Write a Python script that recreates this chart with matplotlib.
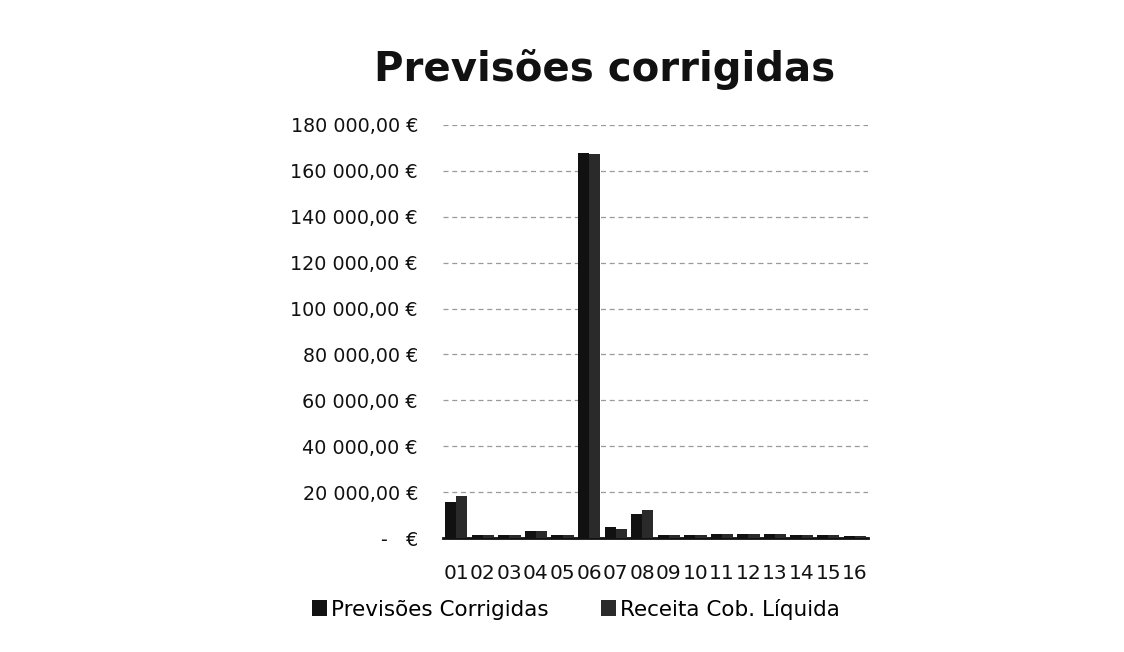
import matplotlib
matplotlib.use("Agg")
import matplotlib.pyplot as plt
import numpy as np

categories = ["01", "02", "03", "04", "05", "06", "07", "08",
              "09", "10", "11", "12", "13", "14", "15", "16"]
previsoes = [15500, 1500, 1500, 3000, 1500, 168000, 4800, 10600,
             1500, 1500, 1800, 1800, 1800, 1500, 1500, 1000]
receita = [18400, 1200, 1300, 3000, 1200, 167500, 3800, 12200,
           1300, 1400, 1600, 1600, 1700, 1400, 1400, 900]
y_ticks = [0, 20000, 40000, 60000, 80000, 100000, 120000, 140000, 160000, 180000]
title = "Previsões corrigidas"
series_names = ["Previsões Corrigidas", "Receita Cob. Líquida"]

plt.rcParams['font.family'] = ['DejaVu Sans']

fig = plt.figure(figsize=(11.24, 6.52), dpi=100)
ax = fig.add_axes([443/1124, 1-538/652, (868-443)/1124, (538-125)/652])

x = np.arange(len(categories))
w = 0.42
ax.bar(x - w/2, previsoes, width=w, color="#111111", label=series_names[0], zorder=3)
ax.bar(x + w/2, receita, width=w, color="#2a2a2a", label=series_names[1], zorder=3)

ax.set_xlim(-0.5, len(categories) - 0.5)
ax.set_ylim(0, 180000)
ax.set_yticks(y_ticks)

def fmt(v):
    if v == 0:
        return "-   €"
    return f"{int(v):,}".replace(",", " ") + ",00 €"

ax.set_yticklabels([fmt(v) for v in y_ticks], fontsize=13.8, color="#111111")
ax.set_xticks(x)
ax.set_xticklabels(categories, fontsize=14.5, color="#111111")
ax.tick_params(axis='x', length=0, pad=19)
ax.tick_params(axis='y', length=0, pad=18)

ax.grid(axis='y', color="#9a9a9a", linewidth=0.9, linestyle=(0, (4, 3)), zorder=0)
for s in ["top", "right", "left"]:
    ax.spines[s].set_visible(False)
ax.spines["bottom"].set_color("#111111")
ax.spines["bottom"].set_linewidth(2)

fig.text(605/1124, 1-70/652, title, ha="center", va="center",
         fontsize=29, fontweight="bold", color="#111111")

handles, labels = ax.get_legend_handles_labels()
fig.legend(handles, labels, loc="center", bbox_to_anchor=(576/1124, 1-609/652),
           ncol=2, frameon=False, fontsize=15.5, handlelength=0.7, handleheight=0.7,
           handletextpad=0.2, columnspacing=2.4)

fig.savefig("out.png", dpi=100, facecolor="white")
